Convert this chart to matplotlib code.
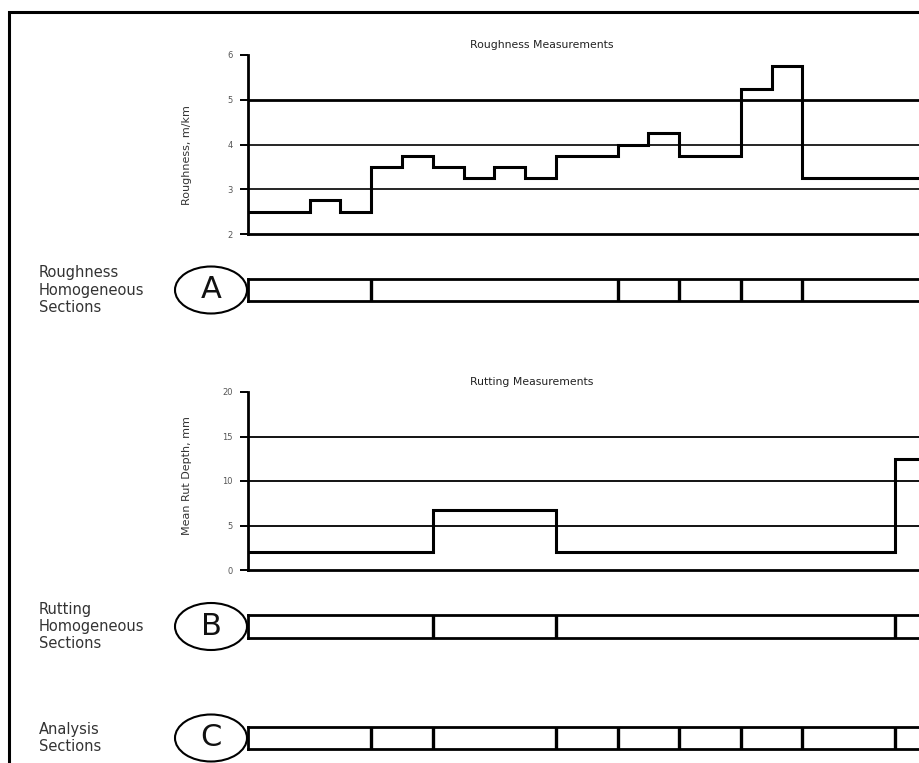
# Homogeneous sections from roughness and rutting measurements
import matplotlib
matplotlib.use('Agg')
import matplotlib.pyplot as plt
from matplotlib.patches import Ellipse, Rectangle

# ---------------------------
# Data
# ---------------------------
# roughness profile (step values between segment edges)
roughness_edges = [0, 2, 3, 4, 5, 6, 7, 8, 9, 10, 12, 13, 14, 16, 17, 18, 22]
roughness_values = [2.5, 2.75, 2.5, 3.5, 3.75, 3.5, 3.25, 3.5, 3.25,
                    3.75, 4.0, 4.25, 3.75, 5.25, 5.75, 3.25]
roughness_ticks = [2, 3, 4, 5, 6]
roughness_grid = [3, 4, 5]
roughness_grid_lw = [1.2, 1.2, 2.0]

# rutting profile
rutting_edges = [0, 6, 10, 21, 22]
rutting_values = [2, 6.75, 2, 12.5]
rutting_ticks = [0, 5, 10, 15, 20]
rutting_grid = [5, 10, 15]
rutting_grid_lw = [1.3, 1.3, 1.3]

# section boundaries
sections_a = [4, 12, 14, 16, 18]
sections_b = [6, 10, 21]
sections_c = [4, 6, 10, 12, 14, 16, 18, 21]

x_max = 21.82

# ---------------------------
# Figure
# ---------------------------
W, H = 920, 763
fig = plt.figure(figsize=(W / 100, H / 100), dpi=100)
plt.rcParams['font.family'] = ['DejaVu Sans']


def px_axes(x0, y_top, y_bot):
    # axes placed from pixel positions, right edge at figure edge
    return fig.add_axes([x0 / W, 1 - y_bot / H, (W - x0) / W, (y_bot - y_top) / H])


def chart(ax, edges, values, ticks, grid, grid_lw, title, ylabel, label_y):
    ax.set_xlim(0, x_max)
    ax.set_ylim(ticks[0], ticks[-1])
    ax.set_yticks(ticks)
    ax.set_xticks([])
    for g, lw in zip(grid, grid_lw):
        ax.axhline(g, color='black', lw=lw, zorder=1)
    ax.stairs(values, edges, baseline=None, color='black', lw=2.2, zorder=3)
    for s in ['top', 'right']:
        ax.spines[s].set_visible(False)
    ax.spines['left'].set_linewidth(2.0)
    ax.spines['bottom'].set_linewidth(2.0)
    ax.tick_params(axis='y', direction='out', length=6, width=1.4,
                   pad=5, labelsize=6, labelcolor='#555555')
    ax.set_ylabel(ylabel, fontsize=8, color='#333333')
    ax.yaxis.set_label_coords(-0.083, label_y)
    ax.text(0.33, 1.03, title, transform=ax.transAxes, ha='left',
            va='bottom', fontsize=7.8, color='#222222')


def section_bar(ax, bounds, letter, label):
    ax.set_xlim(0, x_max)
    ax.set_ylim(0, 1)
    ax.set_xticks([])
    ax.set_yticks([])
    ax.spines['right'].set_visible(False)
    for s in ['top', 'bottom', 'left']:
        ax.spines[s].set_linewidth(2.0)
    ax.vlines(bounds, 0, 1, color='black', lw=2.4)
    pos = ax.get_position()
    yc = pos.y0 + pos.height / 2
    xc = pos.x0 - 37 / W
    fig.add_artist(Ellipse((xc, yc), 72 / W, 47 / H, transform=fig.transFigure,
                           fill=False, ec='black', lw=1.5))
    fig.text(xc, yc, letter, ha='center', va='center', fontsize=22,
             color='#111111')
    fig.text(39 / W, yc, label, ha='left', va='center', fontsize=10.5,
             color='#333333', linespacing=1.2)


ax1 = px_axes(248, 55, 234)
chart(ax1, roughness_edges, roughness_values, roughness_ticks, roughness_grid,
      roughness_grid_lw, 'Roughness Measurements', 'Roughness, m/km', 0.44)

ax_a = px_axes(248, 279, 301)
section_bar(ax_a, sections_a, 'A', 'Roughness\nHomogeneous\nSections')

ax2 = px_axes(248, 392, 570)
chart(ax2, rutting_edges, rutting_values, rutting_ticks, rutting_grid,
      rutting_grid_lw, 'Rutting Measurements', 'Mean Rut Depth, mm', 0.53)

ax_b = px_axes(248, 615, 638)
section_bar(ax_b, sections_b, 'B', 'Rutting\nHomogeneous\nSections')

ax_c = px_axes(248, 727, 749)
section_bar(ax_c, sections_c, 'C', 'Analysis\nSections')

# outer frame (left and top edges visible)
fig.add_artist(Rectangle((9 / W, -0.2), 2.0, 1.2 - 12 / H, transform=fig.transFigure,
                         fill=False, ec='black', lw=2.2))

fig.savefig('out.png', dpi=100)
